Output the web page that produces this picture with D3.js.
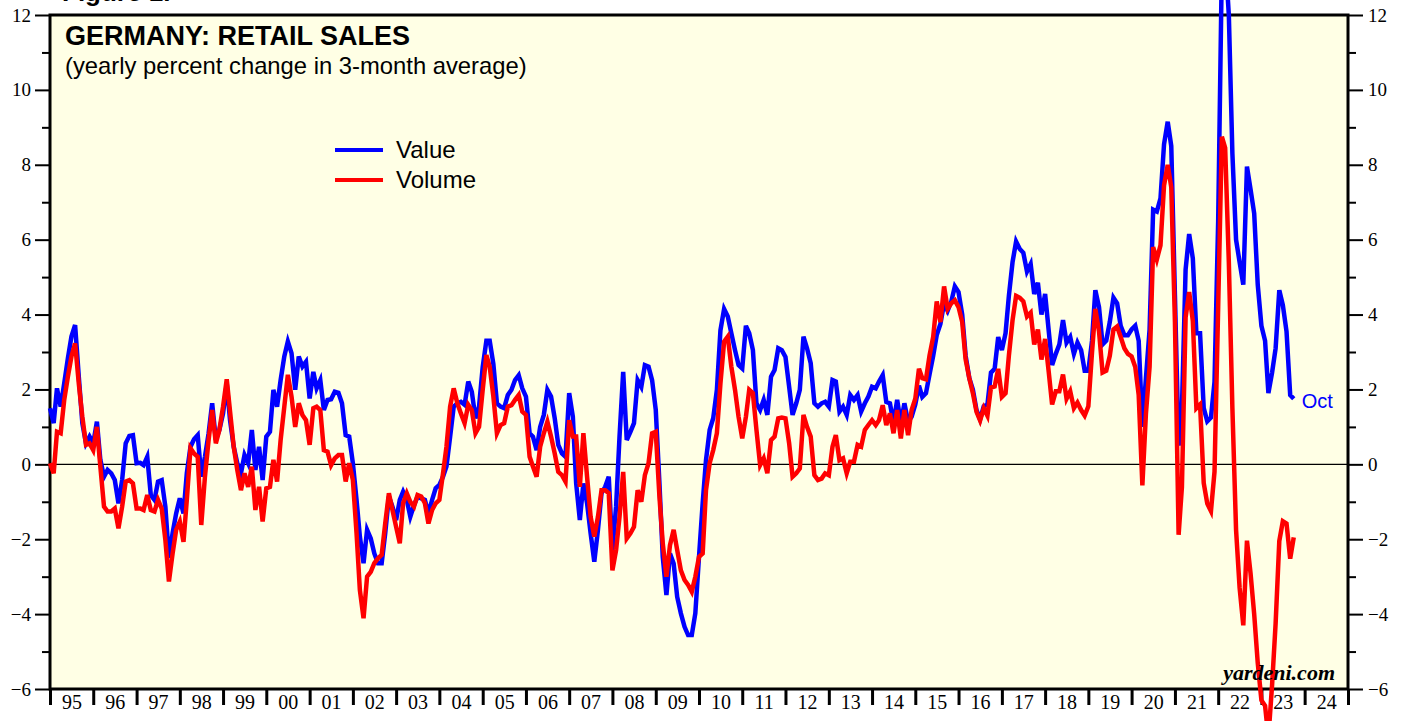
<!DOCTYPE html>
<html>
<head>
<meta charset="utf-8">
<script src="https://cdn.jsdelivr.net/npm/d3@7"></script>
<style>
  body { margin: 0; background: #fff; }
  svg { display: block; }
  .axis text { font-family: "Liberation Serif", "Times New Roman", serif; font-size: 19px; fill: #000; }
  .axis path, .axis line { stroke: #000; }
</style>
</head>
<body>
<script>
// monthly readings, Jan 1995 .. Oct 2023 (one row per year)
var startMonth = new Date(1995, 0, 1);

var valueSeries = [
  1.5, 1.1, 2.03, 1.54, 2.16, 2.83, 3.41, 3.72, 2.34, 1.1, 0.56, 0.74,
  0.56, 1.14, 0.12, -0.33, -0.15, -0.24, -0.42, -1.04, -0.42, 0.56, 0.76, 0.78,
  0.03, 0.04, -0.02, 0.2, -0.82, -0.95, -0.46, -0.42, -1.13, -2.5, -1.84, -1.31,
  -0.91, -1.31, -0.24, 0.47, 0.67, 0.78, -0.33, 0.2, 0.83, 1.63, 0.65, 0.92,
  1.36, 2.16, 1.18, 0.47, 0.03, -0.24, 0.25, 0.03, 0.92, -0.15, 0.47, -0.42,
  0.74, 0.87, 1.99, 1.54, 2.25, 2.88, 3.28, 2.97, 1.99, 2.88, 2.61, 2.74,
  1.76, 2.47, 2.03, 2.25, 1.45, 1.72, 1.74, 1.94, 1.91, 1.63, 0.78, 0.74,
  0.03, -0.95, -1.93, -2.64, -1.75, -1.98, -2.38, -2.64, -2.64, -1.84, -0.86, -1.13,
  -1.49, -0.95, -0.73, -0.95, -1.4, -1.09, -0.86, -0.91, -0.95, -1.31, -0.95, -0.64,
  -0.55, -0.33, -0.06, 0.74, 1.54, 1.63, 1.67, 1.59, 2.21, 1.94, 1.23, 1.54,
  2.6, 3.3, 3.3, 2.68, 1.63, 1.54, 1.5, 1.85, 1.99, 2.25, 2.38, 2.03,
  1.81, 0.83, 0.74, 0.38, 1.0, 1.32, 1.99, 1.81, 1.23, 0.52, 0.29, 0.2,
  1.9, 1.27, -0.51, -1.49, -0.51, -1.04, -1.84, -2.6, -1.75, -0.77, -0.6, -0.33,
  -2.29, -1.13, 0.74, 2.47, 0.65, 0.87, 1.1, 2.25, 2.07, 2.65, 2.61, 2.25,
  1.45, -0.51, -2.47, -3.49, -2.38, -2.65, -3.54, -3.98, -4.34, -4.56, -4.56, -3.98,
  -2.47, -1.04, 0.11, 0.92, 1.23, 1.99, 3.58, 4.15, 3.95, 3.5, 3.05, 2.65,
  2.56, 3.7, 3.5, 3.05, 1.63, 1.45, 1.72, 1.32, 2.34, 2.52, 3.1, 3.05,
  2.87, 2.07, 1.32, 1.63, 1.99, 3.41, 3.1, 2.7, 1.63, 1.54, 1.63, 1.67,
  1.54, 2.25, 2.21, 1.41, 1.54, 1.32, 1.85, 1.72, 1.85, 1.41, 1.63, 1.81,
  2.07, 2.03, 2.21, 2.38, 1.67, 1.63, 1.1, 1.72, 1.1, 1.63, 1.14, 1.27,
  1.6, 2.1, 1.8, 1.9, 2.4, 2.9, 3.45, 3.75, 4.3, 4.1, 4.35, 4.75,
  4.6, 4.0, 2.9, 2.3, 2.0, 1.45, 1.2, 1.55, 1.6, 2.45, 2.55, 3.4,
  3.05, 3.5, 4.5, 5.4, 5.95, 5.75, 5.65, 5.15, 5.35, 4.55, 4.85, 4.0,
  4.55, 3.55, 2.65, 2.95, 3.2, 3.85, 3.25, 3.4, 2.95, 3.25, 3.05, 2.5,
  2.5, 3.3, 4.65, 4.2, 3.2, 3.3, 3.8, 4.45, 4.3, 3.7, 3.45, 3.45,
  3.6, 3.7, 3.3, 1.0, 2.3, 3.6, 6.8, 6.75, 7.1, 8.55, 9.15, 8.5,
  4.5, 0.5, 1.5, 5.2, 6.15, 5.5, 3.5, 3.5, 1.5, 1.15, 1.25, 2.2,
  6.5, 13.3, 13.6, 12.0, 8.3, 6.0, 5.4, 4.8, 7.95, 7.35, 6.7, 4.8,
  3.7, 3.3, 1.9, 2.45, 3.1, 4.65, 4.25, 3.55, 1.85, 1.75
];

var volumeSeries = [
  0.03, -0.24, 0.87, 0.83, 1.72, 2.34, 2.88, 3.23, 2.16, 1.27, 0.52, 0.56,
  0.38, 1.0, -0.06, -1.13, -1.26, -1.26, -1.18, -1.71, -1.13, -0.46, -0.42, -0.51,
  -1.18, -1.18, -1.22, -0.82, -1.22, -1.26, -0.95, -1.18, -2.02, -3.13, -2.38, -1.75,
  -1.53, -2.07, -0.95, 0.43, 0.29, 0.2, -1.62, -0.33, 0.65, 1.45, 0.56, 0.92,
  1.54, 2.27, 1.41, 0.47, -0.15, -0.69, -0.24, -0.6, -0.06, -1.22, -0.6, -1.53,
  -0.64, -0.6, 0.12, -0.46, 0.65, 1.54, 2.39, 1.81, 1.0, 1.63, 1.32, 1.18,
  0.52, 1.5, 1.54, 1.45, 0.38, 0.34, -0.02, 0.16, 0.25, 0.25, -0.46, 0.03,
  -0.42, -1.84, -3.36, -4.11, -3.0, -2.87, -2.64, -2.51, -2.42, -1.58, -0.77, -1.22,
  -1.67, -2.11, -1.04, -0.77, -1.0, -1.13, -0.82, -0.86, -1.04, -1.58, -1.22, -1.04,
  -0.95, -0.24, 0.47, 1.54, 2.03, 1.63, 1.36, 1.1, 1.59, 1.45, 0.83, 1.0,
  1.99, 2.92, 2.61, 1.81, 0.83, 1.05, 1.1, 1.54, 1.58, 1.72, 1.85, 1.41,
  1.32, 0.2, -0.06, -0.33, 0.47, 0.83, 1.14, 0.74, 0.29, -0.2, -0.29, -0.46,
  1.18, 0.74, 0.74, -0.6, 0.83, -0.33, -1.4, -1.93, -1.4, -0.69, -0.69, -0.77,
  -2.83, -2.29, -1.4, -0.2, -1.98, -1.84, -1.67, -0.69, -1.0, -0.29, 0.03, 0.83,
  0.87, -0.86, -2.11, -3.0, -2.16, -1.75, -2.29, -2.83, -3.09, -3.22, -3.4, -3.0,
  -2.47, -2.38, -0.69, 0.03, 0.38, 0.83, 2.16, 3.28, 3.41, 2.61, 1.99, 1.27,
  0.69, 1.27, 1.99, 1.9, 0.92, -0.02, 0.16, -0.24, 0.65, 0.74, 1.23, 1.25,
  1.23, 0.56, -0.33, -0.24, -0.11, 1.32, 1.0, 0.74, -0.29, -0.42, -0.38, -0.24,
  -0.29, 0.47, 0.78, 0.11, 0.16, -0.24, 0.07, 0.07, 0.52, 0.47, 0.92, 1.05,
  1.18, 1.05, 1.18, 1.58, 1.05, 1.36, 0.83, 1.45, 0.69, 1.45, 0.78, 1.45,
  1.75, 2.55, 2.3, 2.27, 2.9, 3.4, 4.35, 3.8, 4.75, 4.15, 4.3, 4.38,
  4.2, 3.8, 2.8, 2.3, 1.9, 1.4, 1.17, 1.5, 1.3, 2.05, 2.08, 2.55,
  1.8, 1.9, 2.9, 3.85, 4.5, 4.45, 4.35, 3.95, 4.05, 3.2, 3.6, 2.8,
  3.35, 2.45, 1.6, 1.95, 1.95, 2.4, 1.75, 1.95, 1.5, 1.65, 1.45, 1.3,
  1.55, 3.0, 4.15, 3.55, 2.45, 2.5, 2.9, 3.6, 3.68, 3.4, 3.1, 2.95,
  2.88, 2.6, 1.85, -0.56, 1.35, 2.6, 5.8, 5.47, 5.85, 7.45, 8.0, 7.4,
  3.8, -1.88, -0.6, 3.92, 4.6, 3.83, 1.5, 1.6, -0.5, -1.05, -1.25, -0.2,
  4.2, 8.75, 8.45, 5.4, 1.5, -1.75, -3.3, -4.3, -2.04, -2.9, -4.0, -5.3,
  -6.3, -6.45, -7.3, -5.9, -4.25, -2.05, -1.52, -1.58, -2.52, -1.95
];

var yearTicks = d3.range(1995, 2026);
var yearLabels = d3.range(1995, 2025);
var yMajor = d3.range(-6, 13, 2);
var yMinor = d3.range(-5, 12, 2);
var seriesNames = ["Value", "Volume"];
var seriesColors = ["#0000ff", "#ff0000"];
var lastLabel = "Oct";

var W = 1405, H = 721;
var plotLeft = 50, plotRight = 1348, plotTop = 15, plotBottom = 689;

var svg = d3.select("body").append("svg")
  .attr("width", W)
  .attr("height", H);

var x = d3.scaleTime()
  .domain([new Date(1995, 0, 1), new Date(2025, 0, 1)])
  .range([plotLeft, plotRight]);

var y = d3.scaleLinear()
  .domain([-6, 12])
  .range([plotBottom, plotTop]);

function toPoints(arr) {
  return arr.map(function(v, i) {
    return { date: d3.timeMonth.offset(startMonth, i), v: v };
  });
}

// plot background
svg.append("rect")
  .attr("x", plotLeft)
  .attr("y", plotTop)
  .attr("width", plotRight - plotLeft)
  .attr("height", plotBottom - plotTop)
  .attr("fill", "#ffffe5");

// cropped figure caption at the very top
svg.append("text")
  .attr("x", 62)
  .attr("y", 1)
  .style("font-family", "Liberation Sans, Arial, sans-serif")
  .style("font-weight", "bold")
  .style("font-size", "26px")
  .text("Figure 1.");

// zero line
svg.append("line")
  .attr("x1", plotLeft)
  .attr("x2", plotRight)
  .attr("y1", y(0))
  .attr("y2", y(0))
  .attr("stroke", "#000")
  .attr("stroke-width", 1.2);

// left axis
svg.append("g")
  .attr("class", "axis")
  .attr("transform", "translate(" + plotLeft + ",0)")
  .call(d3.axisLeft(y).tickValues(yMajor).tickSize(15).tickPadding(4).tickFormat(d3.format("d")))
  .call(function(g) { g.select(".domain").remove(); });

svg.append("g")
  .attr("class", "axis")
  .attr("transform", "translate(" + plotLeft + ",0)")
  .call(d3.axisLeft(y).tickValues(yMinor).tickSize(8).tickFormat(""))
  .call(function(g) { g.select(".domain").remove(); });

// right axis
svg.append("g")
  .attr("class", "axis")
  .attr("transform", "translate(" + plotRight + ",0)")
  .call(d3.axisRight(y).tickValues(yMajor).tickSize(15).tickPadding(5).tickFormat(d3.format("d")))
  .call(function(g) { g.select(".domain").remove(); });

svg.append("g")
  .attr("class", "axis")
  .attr("transform", "translate(" + plotRight + ",0)")
  .call(d3.axisRight(y).tickValues(yMinor).tickSize(8).tickFormat(""))
  .call(function(g) { g.select(".domain").remove(); });

svg.selectAll(".axis line").attr("stroke-width", 2);

// bottom axis: year ticks and centred year labels
svg.append("g")
  .attr("class", "axis")
  .attr("transform", "translate(0," + plotBottom + ")")
  .call(d3.axisBottom(x).tickValues(yearTicks.map(function(yr) { return new Date(yr, 0, 1); }))
    .tickSize(16).tickFormat(""))
  .call(function(g) {
    g.select(".domain").remove();
    g.selectAll("line").attr("stroke-width", 3);
  });

svg.append("g")
  .attr("class", "axis")
  .attr("transform", "translate(0," + plotBottom + ")")
  .call(d3.axisBottom(x).tickValues(yearLabels.map(function(yr) { return new Date(yr, 6, 1); }))
    .tickSize(0).tickPadding(6).tickFormat(d3.timeFormat("%y")))
  .call(function(g) {
    g.select(".domain").remove();
    g.selectAll("text").style("font-size", "20px");
  });

// frame
svg.append("rect")
  .attr("x", plotLeft)
  .attr("y", plotTop)
  .attr("width", plotRight - plotLeft)
  .attr("height", plotBottom - plotTop)
  .attr("fill", "none")
  .attr("stroke", "#000")
  .attr("stroke-width", 3);

// series
var line = d3.line()
  .x(function(d) { return x(d.date); })
  .y(function(d) { return y(d.v); });

var valuePts = toPoints(valueSeries);
var volumePts = toPoints(volumeSeries);

svg.append("path")
  .datum(valuePts)
  .attr("d", line)
  .attr("fill", "none")
  .attr("stroke", seriesColors[0])
  .attr("stroke-width", 4.5);

svg.append("path")
  .datum(volumePts)
  .attr("d", line)
  .attr("fill", "none")
  .attr("stroke", seriesColors[1])
  .attr("stroke-width", 4.5);

var last = valuePts[valuePts.length - 1];
svg.append("text")
  .attr("x", x(last.date) + 8)
  .attr("y", y(last.v) + 9)
  .attr("fill", seriesColors[0])
  .style("font-family", "Liberation Sans, Arial, sans-serif")
  .style("font-size", "20px")
  .text(lastLabel);

// titles
svg.append("text")
  .attr("x", 65)
  .attr("y", 45)
  .style("font-family", "Liberation Sans, Arial, sans-serif")
  .style("font-weight", "bold")
  .style("font-size", "27px")
  .text("GERMANY: RETAIL SALES");

svg.append("text")
  .attr("x", 65)
  .attr("y", 74)
  .style("font-family", "Liberation Sans, Arial, sans-serif")
  .style("font-size", "23.8px")
  .text("(yearly percent change in 3-month average)");

// legend
var legend = svg.append("g").attr("transform", "translate(335,150)");
seriesNames.forEach(function(name, i) {
  legend.append("line")
    .attr("x1", 0).attr("x2", 48)
    .attr("y1", i * 30).attr("y2", i * 30)
    .attr("stroke", seriesColors[i])
    .attr("stroke-width", 4);
  legend.append("text")
    .attr("x", 61)
    .attr("y", i * 30 + 8)
    .style("font-family", "Liberation Sans, Arial, sans-serif")
    .style("font-size", "24px")
    .text(name);
});

// source
svg.append("text")
  .attr("x", 1335)
  .attr("y", 680)
  .attr("text-anchor", "end")
  .style("font-family", "Liberation Serif, Times New Roman, serif")
  .style("font-weight", "bold")
  .style("font-style", "italic")
  .style("font-size", "22px")
  .text("yardeni.com");
</script>
</body>
</html>
